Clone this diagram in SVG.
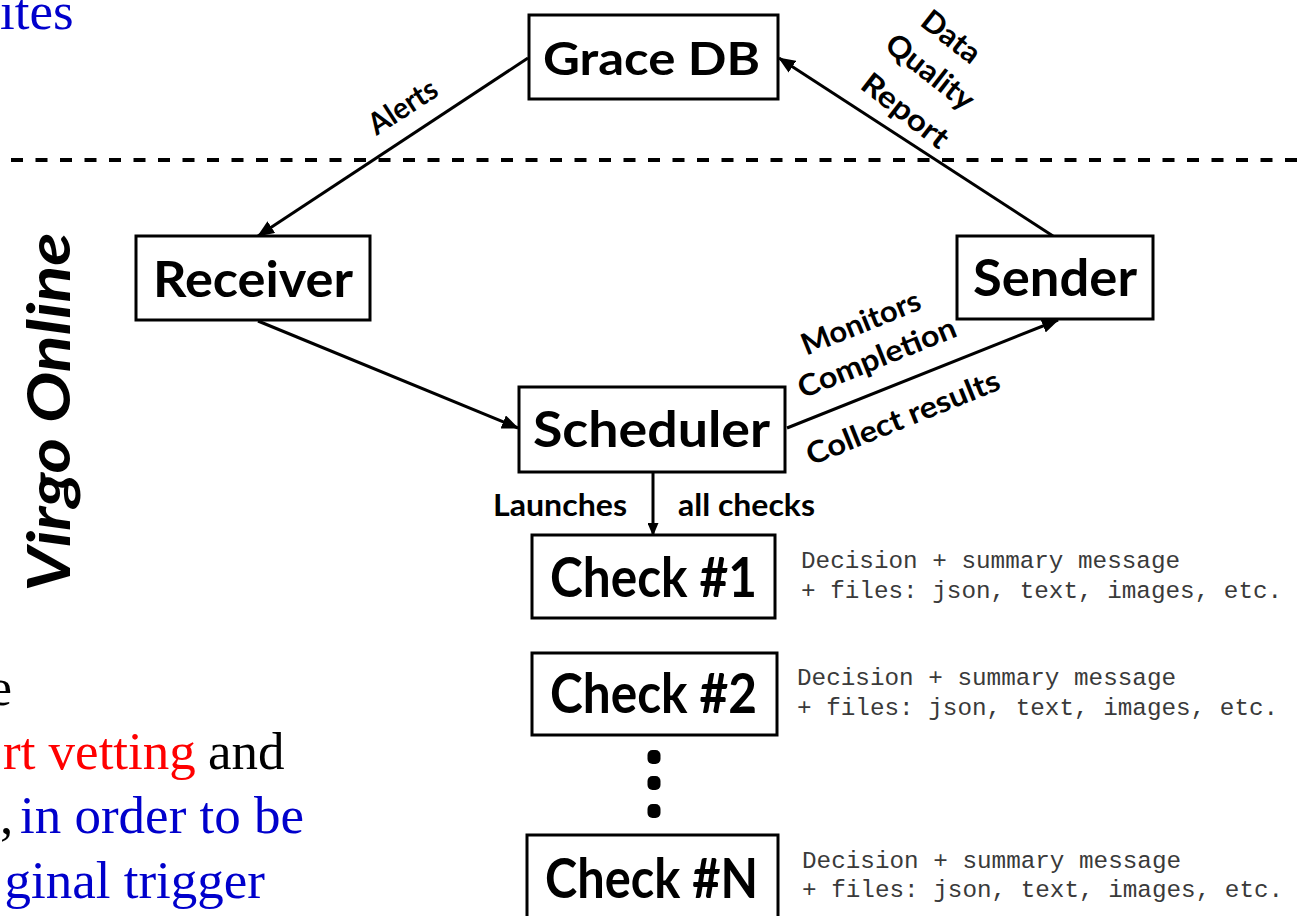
<svg xmlns="http://www.w3.org/2000/svg" width="1299" height="916" viewBox="0 0 1299 916">
<defs>
<style>
.box{fill:#fff;stroke:#000;stroke-width:3}
.node{font-family:Lato,"Open Sans",sans-serif;font-weight:700;fill:#000}
.lbl{font-family:Lato,"Open Sans",sans-serif;font-weight:700;font-size:30px;fill:#000}
.mono{font-family:"Liberation Mono","DejaVu Sans Mono",monospace;font-size:24.3px;fill:#3a3a3a}
.ser{font-family:"Liberation Serif","Times New Roman",serif;font-size:53px}
.conn{stroke:#000;stroke-width:3;fill:none}
.blue{fill:#0000cc}
.red{fill:#ff0000}
.blk{fill:#000}
</style>
<marker id="ah" markerUnits="userSpaceOnUse" markerWidth="17" markerHeight="14" refX="16" refY="7" orient="auto">
<path d="M0,0 L17,7 L0,14 z" fill="#000"/>
</marker>
<marker id="ahs" markerUnits="userSpaceOnUse" markerWidth="13" markerHeight="11" refX="12" refY="5.5" orient="auto">
<path d="M0,0 L13,5.5 L0,11 z" fill="#000"/>
</marker>
</defs>

<!-- cut-off slide text -->
<g id="slide-text">
<text class="ser blue" x="0" y="29">ites</text>
<text class="ser blk" x="12" y="705" text-anchor="end">e</text>
<text class="ser" x="3" y="769"><tspan class="red">rt vetting</tspan><tspan class="blk" x="208">and</tspan></text>
<text class="ser" x="0" y="833"><tspan class="blk">,</tspan><tspan class="blue" x="20">in order to be</tspan></text>
<text class="ser blue" x="265" y="898" text-anchor="end">ginal trigger</text>
</g>

<!-- boundary -->
<line id="boundary" x1="11" y1="160" x2="1299" y2="160" stroke="#000" stroke-width="4" stroke-dasharray="12 12.5"/>

<g id="virgo-online">
<text class="node" font-style="italic" font-size="60" transform="translate(70,412) rotate(-90)" text-anchor="middle" textLength="359" lengthAdjust="spacingAndGlyphs">Virgo Online</text>
</g>

<g id="connectors">
<line class="conn" x1="528" y1="58" x2="258" y2="236" marker-end="url(#ah)"/>
<line class="conn" x1="258" y1="321" x2="518" y2="428" marker-end="url(#ah)"/>
<line class="conn" x1="653" y1="472" x2="653" y2="535" marker-end="url(#ahs)"/>
<line class="conn" x1="787" y1="428" x2="1058" y2="320" marker-end="url(#ah)"/>
<line class="conn" x1="1053" y1="236" x2="779" y2="58" marker-end="url(#ah)"/>
<g id="connector-labels">
<text class="lbl" transform="translate(403,107) rotate(-33)" text-anchor="middle" y="10" textLength="76" lengthAdjust="spacingAndGlyphs">Alerts</text>
<text class="lbl" transform="translate(951,37) rotate(38)" text-anchor="middle" y="10" textLength="66" lengthAdjust="spacingAndGlyphs">Data</text>
<text class="lbl" transform="translate(930,72) rotate(38)" text-anchor="middle" y="10" textLength="104" lengthAdjust="spacingAndGlyphs">Quality</text>
<text class="lbl" transform="translate(905,111) rotate(38)" text-anchor="middle" y="10" textLength="102" lengthAdjust="spacingAndGlyphs">Report</text>
<text class="lbl" transform="translate(861,323) rotate(-22)" text-anchor="middle" y="10" textLength="126" lengthAdjust="spacingAndGlyphs">Monitors</text>
<text class="lbl" transform="translate(877,358) rotate(-22)" text-anchor="middle" y="10" textLength="168" lengthAdjust="spacingAndGlyphs">Completion</text>
<text class="lbl" transform="translate(903,418) rotate(-22)" text-anchor="middle" y="10" textLength="206" lengthAdjust="spacingAndGlyphs">Collect results</text>
<text class="lbl" x="493" y="516" textLength="134" lengthAdjust="spacingAndGlyphs">Launches</text>
<text class="lbl" x="678" y="516" textLength="137" lengthAdjust="spacingAndGlyphs">all checks</text>
</g>
</g>

<g id="grace-db">
<rect class="box" x="529" y="15" width="249" height="84"/>
<text class="node" font-size="46" x="543" y="75" textLength="217" lengthAdjust="spacingAndGlyphs">Grace DB</text>
</g>
<g id="receiver">
<rect class="box" x="136" y="236" width="234" height="84"/>
<text class="node" font-size="50" x="153" y="297" textLength="200" lengthAdjust="spacingAndGlyphs">Receiver</text>
</g>
<g id="sender">
<rect class="box" x="957" y="236" width="196" height="83"/>
<text class="node" font-size="51" x="973" y="296" textLength="164" lengthAdjust="spacingAndGlyphs">Sender</text>
</g>
<g id="scheduler">
<rect class="box" x="519" y="387" width="266" height="85"/>
<text class="node" font-size="49" x="533" y="447" textLength="237" lengthAdjust="spacingAndGlyphs">Scheduler</text>
</g>
<g id="check-1">
<rect class="box" x="532" y="535" width="243" height="83"/>
<text class="node" font-size="56" x="550" y="597" textLength="207" lengthAdjust="spacingAndGlyphs">Check #1</text>
<text class="mono" x="801" y="568">Decision + summary message</text>
<text class="mono" x="801" y="598">+ files: json, text, images, etc.</text>
</g>
<g id="check-2">
<rect class="box" x="532" y="653" width="245" height="82"/>
<text class="node" font-size="56" x="550" y="713" textLength="207" lengthAdjust="spacingAndGlyphs">Check #2</text>
<text class="mono" x="797" y="685">Decision + summary message</text>
<text class="mono" x="797" y="715">+ files: json, text, images, etc.</text>
</g>
<g id="ellipsis">
<rect x="647.5" y="750" width="13" height="14" rx="5" fill="#000"/>
<rect x="647.5" y="776" width="13" height="14" rx="5" fill="#000"/>
<rect x="647.5" y="804" width="13" height="14" rx="5" fill="#000"/>
</g>
<g id="check-n">
<rect class="box" x="527" y="835" width="251" height="100"/>
<text class="node" font-size="56" x="545" y="898" textLength="213" lengthAdjust="spacingAndGlyphs">Check #N</text>
<text class="mono" x="802" y="868">Decision + summary message</text>
<text class="mono" x="802" y="897">+ files: json, text, images, etc.</text>
</g>
</svg>
